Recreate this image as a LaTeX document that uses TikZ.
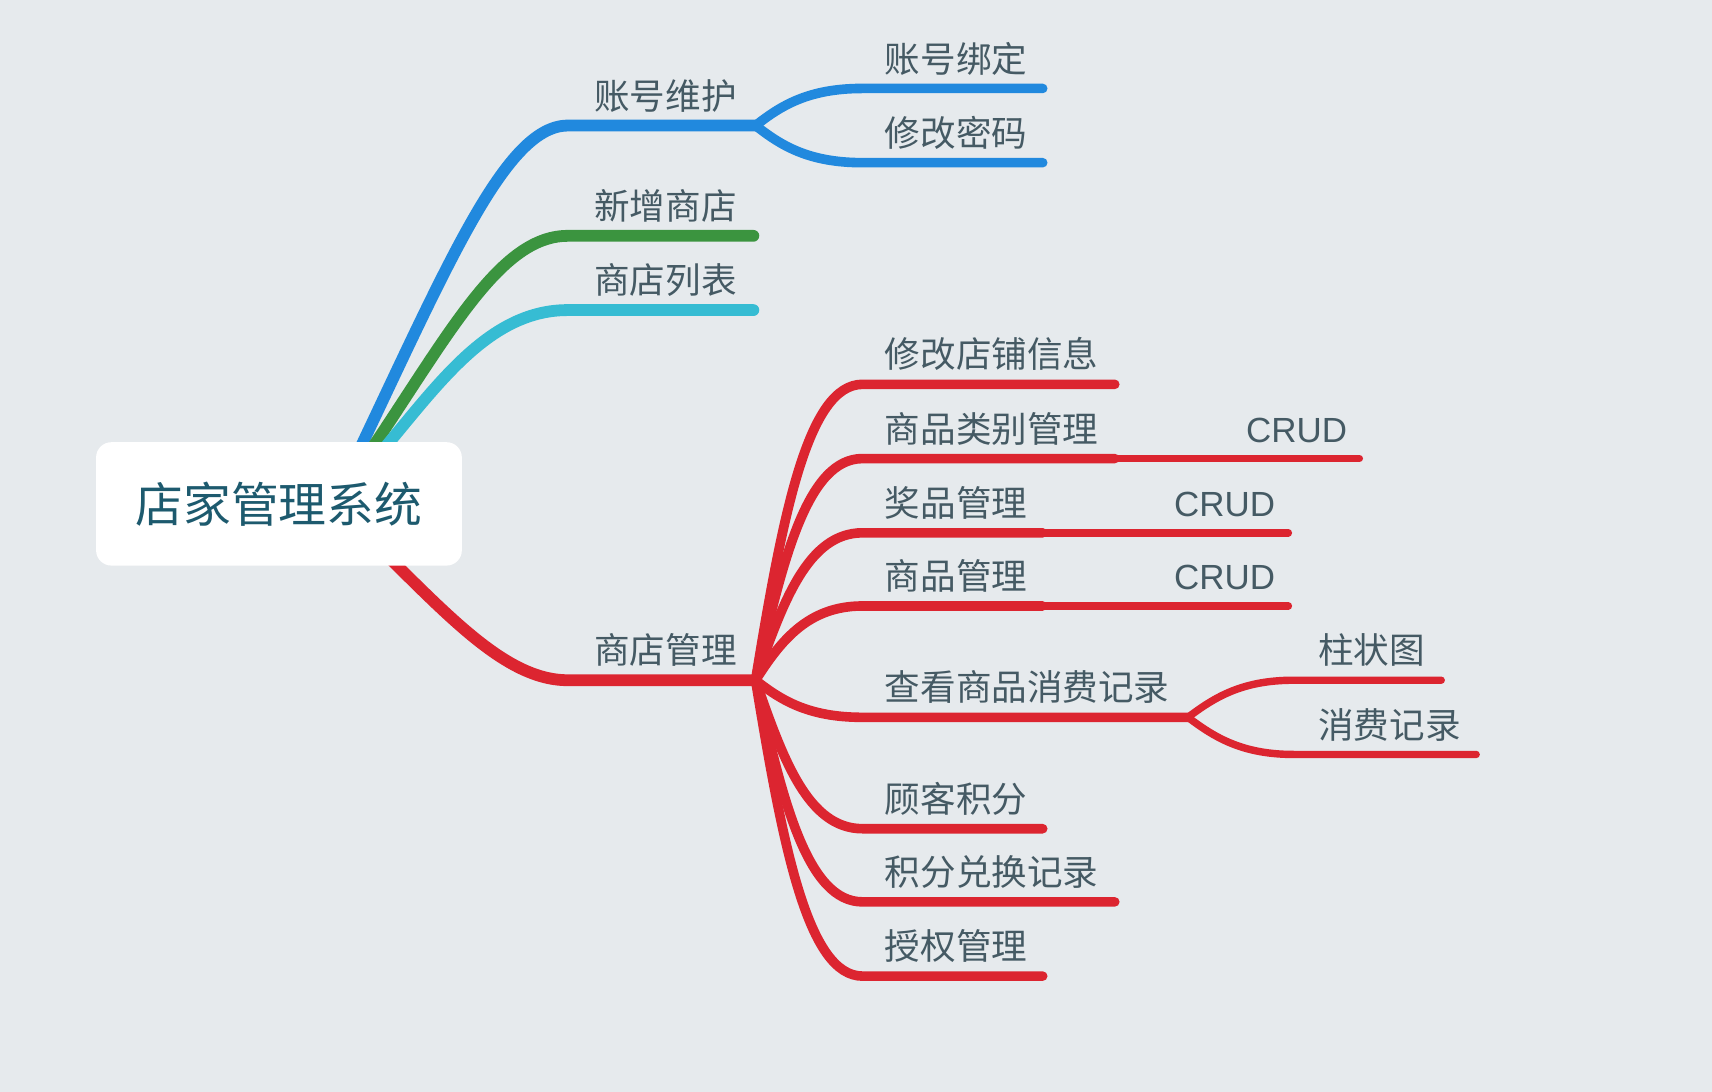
\documentclass[tikz,border=0pt]{standalone}
\usepackage{fontspec}
\newfontfamily\cjkf{Noto Sans CJK SC}
\newfontfamily\latf{Liberation Sans}
\usetikzlibrary{calc}
\pgfdeclarelayer{bgfill}
\pgfdeclarelayer{bg}
\pgfsetlayers{bgfill,bg,main}
\definecolor{bgc}{HTML}{E6EAED}
\definecolor{txtc}{HTML}{455A64}
\definecolor{titc}{HTML}{1D5A6E}
\definecolor{bluec}{HTML}{2189DE}
\definecolor{greenc}{HTML}{3B943F}
\definecolor{cyanc}{HTML}{36BCD3}
\definecolor{redc}{HTML}{DC2530}
\begin{document}
\begin{tikzpicture}[x=0.5pt,y=-0.5pt,
  lbl/.style={inner sep=0pt, anchor=base west, text=txtc, font=\cjkf\fontsize{16.3pt}{18pt}\selectfont},
  crud/.style={lbl, font=\latf\fontsize{16pt}{18pt}\selectfont},
  rootbox/.style={fill=white, rounded corners=7pt, minimum width=167.5pt, minimum height=56.5pt, inner sep=0pt, text=titc, font=\cjkf\fontsize{21.9pt}{24pt}\selectfont},
  l1/.style={line width=5.4pt, line cap=round},
  l2/.style={line width=4.4pt, line cap=round},
  l3/.style={line width=3.4pt, line cap=round}]
\begin{pgfonlayer}{bgfill}
\fill[bgc] (0,0) rectangle (1568,1000);
\end{pgfonlayer}
\useasboundingbox (0,0) rectangle (1568,1000);

% root
\node[rootbox] (root) at (255.5,461.5) {店家管理系统};
\coordinate (o) at ($(root.center)+(50,0)$);

% level 1 line ends
\coordinate (A-s) at (520,115); \coordinate (A-e) at (692,115);
\coordinate (B-s) at (520,216); \coordinate (B-e) at (690,216);
\coordinate (C-s) at (520,284); \coordinate (C-e) at (690,284);
\coordinate (D-s) at (520,623); \coordinate (D-e) at (692,623);

% level 2
\coordinate (A1-s) at (790,81);  \coordinate (A1-e) at (955,81);
\coordinate (A2-s) at (790,149); \coordinate (A2-e) at (955,149);
\coordinate (D1-s) at (790,352); \coordinate (D1-e) at (1021,352);
\coordinate (D2-s) at (790,420); \coordinate (D2-e) at (1021,420);
\coordinate (D3-s) at (790,488); \coordinate (D3-e) at (955,488);
\coordinate (D4-s) at (790,555); \coordinate (D4-e) at (955,555);
\coordinate (D5-s) at (790,657); \coordinate (D5-e) at (1088,657);
\coordinate (D6-s) at (790,759); \coordinate (D6-e) at (955,759);
\coordinate (D7-s) at (790,826); \coordinate (D7-e) at (1021,826);
\coordinate (D8-s) at (790,894); \coordinate (D8-e) at (955,894);

% level 3
\coordinate (D2c-e) at (1245,420);
\coordinate (D3c-e) at (1180,488);
\coordinate (D4c-e) at (1180,555);
\coordinate (D5a-s) at (1185,623); \coordinate (D5a-e) at (1320,623);
\coordinate (D5b-s) at (1185,691); \coordinate (D5b-e) at (1352,691);

\begin{pgfonlayer}{bg}
% level 1 connectors
\draw[l1,bluec]  (o) .. controls (405,255) and (460,115) .. (A-s) -- (A-e);
\draw[l1,greenc] (o) .. controls (400,330) and (450,216) .. (B-s) -- (B-e);
\draw[l1,cyanc]  (o) .. controls (380,390) and (430,284) .. (C-s) -- (C-e);
\draw[l1,redc]   (o) .. controls (395,545) and (455,623) .. (D-s) -- (D-e);
\end{pgfonlayer}

% level 2 connectors
\draw[l2,bluec] (A-e) .. controls (715,97) and (740,81) .. (A1-s) -- (A1-e);
\draw[l2,bluec] (A-e) .. controls (715,133) and (740,149) .. (A2-s) -- (A2-e);

\draw[l2,redc] (D-e) .. controls (717,470) and (740,352) .. (D1-s) -- (D1-e);
\draw[l2,redc] (D-e) .. controls (717,510) and (740,420) .. (D2-s) -- (D2-e);
\draw[l2,redc] (D-e) .. controls (717,551) and (740,488) .. (D3-s) -- (D3-e);
\draw[l2,redc] (D-e) .. controls (715,587) and (740,555) .. (D4-s) -- (D4-e);
\draw[l2,redc] (D-e) .. controls (715,641) and (740,657) .. (D5-s) -- (D5-e);
\draw[l2,redc] (D-e) .. controls (717,695) and (740,759) .. (D6-s) -- (D6-e);
\draw[l2,redc] (D-e) .. controls (717,736) and (740,826) .. (D7-s) -- (D7-e);
\draw[l2,redc] (D-e) .. controls (717,776) and (740,894) .. (D8-s) -- (D8-e);

% level 3 connectors
\draw[l3,redc] (D2-e) -- (D2c-e);
\draw[l3,redc] (D3-e) -- (D3c-e);
\draw[l3,redc] (D4-e) -- (D4c-e);
\draw[l3,redc] (D5-e) .. controls (1112,639) and (1137,623) .. (D5a-s) -- (D5a-e);
\draw[l3,redc] (D5-e) .. controls (1112,675) and (1137,691) .. (D5b-s) -- (D5b-e);

% labels
\node[lbl] (tA) at (544,100) {账号维护};
\node[lbl] (tB) at (544,201) {新增商店};
\node[lbl] (tC) at (544,269) {商店列表};
\node[lbl] (tD) at (544,608) {商店管理};

\node[lbl] (tA1) at (810,66)  {账号绑定};
\node[lbl] (tA2) at (810,134) {修改密码};
\node[lbl] (tD1) at (810,337) {修改店铺信息};
\node[lbl] (tD2) at (810,405) {商品类别管理};
\node[lbl] (tD3) at (810,473) {奖品管理};
\node[lbl] (tD4) at (810,540) {商品管理};
\node[lbl] (tD5) at (810,642) {查看商品消费记录};
\node[lbl] (tD6) at (810,744) {顾客积分};
\node[lbl] (tD7) at (810,811) {积分兑换记录};
\node[lbl] (tD8) at (810,879) {授权管理};

\node[crud] (tD2c) at (1141,405) {CRUD};
\node[crud] (tD3c) at (1075,473) {CRUD};
\node[crud] (tD4c) at (1075,540) {CRUD};
\node[lbl] (tD5a) at (1207,608) {柱状图};
\node[lbl] (tD5b) at (1207,676) {消费记录};
\end{tikzpicture}
\end{document}
